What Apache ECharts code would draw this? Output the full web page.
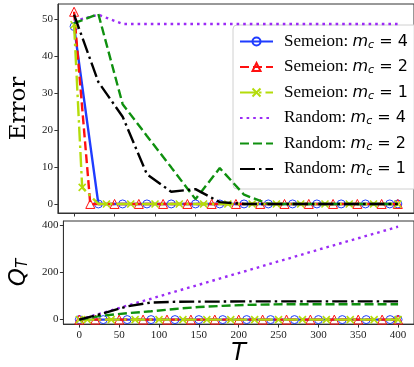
<!DOCTYPE html>
<html><head><meta charset="utf-8">
<script src="https://cdn.jsdelivr.net/npm/echarts@6/dist/echarts.min.js"></script>
<style>html,body{margin:0;padding:0;background:#fff}#c{width:414px;height:367px}</style>
</head><body><div id="c"></div>
<script>
// ---- data ----
const tickValues = [0,50,100,150,200,250,300,350,400];
const errTicks = [0,10,20,30,40,50];
const qTicks = [0,200,400];

const tSem4 = [0,30,60,90,120,150,180,210,240,270,300,330,360,390,400];
const tSem2 = [0,20,50,80,110,140,170,200,230,260,290,320,350,380,400];
const tSem1 = [0,10,20,30,40,70,100,130,160,190,220,250,280,310,340,370,400];
const tRand = [0,30,60,90,120,150,180,210,240,270,300,330,360,390,400];

const errSem4 = [48,0,0,0,0,0,0,0,0,0,0,0,0,0,0];
const errSem2 = [52,0,0,0,0,0,0,0,0,0,0,0,0,0,0];
const errSem1 = [48.5,4.5,2.2,0,0,0,0,0,0,0,0,0,0,0,0,0,0];
const errRand4 = [49.5,51.2,48.7,48.7,48.7,48.7,48.7,48.7,48.7,48.7,48.7,48.7,48.7,48.7,48.7];
const errRand2 = [48.9,51.4,27,18.4,9.9,1.3,9.7,2.5,0,0,0,0,0,0,0];
const errRand1 = [51.2,33,23.6,8,3.3,4.0,0.5,0,0,0,0,0,0,0,0];

const qSem4 = [0,0,0,0,0,0,0,0,0,0,0,0,0,0,0];
const qSem2 = [0,0,0,0,0,0,0,0,0,0,0,0,0,0,0];
const qSem1 = [0,0,0,0,0,0,0,0,0,0,0,0,0,0,0,0,0];
const qRand4 = [0,29,59,88,118,147,177,206,236,265,295,324,353,382,392];
const qRand2 = [0,17,27,35,45,53,58,62,64,65,65,65,65,65,65];
const qRand1 = [0,26,56,72,75,76,76,77,77,77,77,77,77,77,77];

const setNames = ['Semeion','Semeion','Semeion','Random','Random','Random'];
const mcValues = [4,2,1,4,2,1];
const seriesNames = setNames.map((s,i)=>s+': m_c = '+mcValues[i]);

// ---- styles ----
const colors = ['#1f3cff','#ff1010','#b4dc0a','#9b2bf5','#0f900f','#000000'];
const dashes = ['solid',[9,4],[15,4,2.5,4],[2.6,4],[9,4],[15,4,2.5,4]];
const symbols = ['circle','triangle','path://M0,0L10,10M10,0L0,10','none','none','none'];
const symSizes = [8,9,7,0,0,0];
const tArr = [tSem4,tSem2,tSem1,tRand,tRand,tRand];
const errArr = [errSem4,errSem2,errSem1,errRand4,errRand2,errRand1];
const qArr = [qSem4,qSem2,qSem1,qRand4,qRand2,qRand1];

function mk(k, vals, axisIdx){
  const t = tArr[k];
  const data = t.map((x,i)=>{
    const d = {value:[x, vals[i]]};
    if (k===2 && (x===20 || x===30)) d.symbol = 'none';
    return d;
  });
  const hasSym = symbols[k]!=='none';
  return {
    name: seriesNames[k], type:'line', xAxisIndex:axisIdx, yAxisIndex:axisIdx,
    data, symbol: symbols[k], symbolSize: symSizes[k], showSymbol: hasSym,
    clip: true,
    lineStyle:{color:colors[k], width:2.4, type:dashes[k], cap:'butt'},
    itemStyle: hasSym
      ? {color:'rgba(0,0,0,0)', borderColor:colors[k], borderWidth:k===2?1.6:1}
      : {color:'rgba(0,0,0,0)', borderColor:'rgba(0,0,0,0)', borderWidth:0},
    emphasis:{disabled:true}, z: 2+k
  };
}
const series = [];
for (let k=0;k<6;k++) series.push(mk(k, errArr[k], 0));
for (let k=0;k<6;k++) series.push(mk(k, qArr[k], 1));

const tickFont = {fontFamily:'Liberation Serif', fontSize:11, color:'#222'};
const axisLineC = '#333';
function xAxis(gi, showLabels){
  return {
    type:'value', gridIndex:gi, min:-20, max:420,
    axisLine:{show:true, onZero:false, lineStyle:{color:axisLineC, width:1}},
    axisTick:{show:true, inside:false, length:3.5, customValues:tickValues, lineStyle:{color:axisLineC}},
    axisLabel:{show:showLabels, customValues:tickValues, margin:6, ...tickFont},
    splitLine:{show:false},
    name: showLabels ? 'T' : '', nameLocation:'middle', nameGap:16,
    nameTextStyle:{fontFamily:'DejaVu Sans', fontStyle:'italic', fontSize:24, color:'#000'}
  };
}
const chart = echarts.init(document.getElementById('c'), null, {renderer:'canvas'});
chart.setOption({
  animation:false,
  backgroundColor:'#fff',
  grid:[
    {left:51.5, top:4, width:364, height:209, show:true, borderColor:axisLineC, borderWidth:1, backgroundColor:'rgba(0,0,0,0)'},
    {left:51.5, top:221, width:364, height:105, show:true, borderColor:axisLineC, borderWidth:1, backgroundColor:'rgba(0,0,0,0)'}
  ],
  xAxis:[xAxis(0,false), xAxis(1,true)],
  yAxis:[
    {type:'value', gridIndex:0, min:-2.45, max:54.1,
     axisLine:{show:true, onZero:false, lineStyle:{color:axisLineC}},
     axisTick:{show:true, length:3.5, customValues:errTicks, lineStyle:{color:axisLineC}},
     axisLabel:{customValues:errTicks, margin:5, ...tickFont},
     splitLine:{show:false},
     name:'Error', nameLocation:'middle', nameGap:24,
     nameTextStyle:{fontFamily:'DejaVu Serif', fontSize:23, color:'#000'}},
    {type:'value', gridIndex:1, min:-19, max:416,
     axisLine:{show:true, onZero:false, lineStyle:{color:axisLineC}},
     axisTick:{show:true, length:3.5, customValues:qTicks, lineStyle:{color:axisLineC}},
     axisLabel:{customValues:qTicks, margin:5, ...tickFont},
     splitLine:{show:false},
     name:'{q|Q}{t|T}', nameLocation:'middle', nameGap:28,
     nameTextStyle:{rich:{
       q:{fontFamily:'DejaVu Sans', fontStyle:'italic', fontSize:23, color:'#000', lineHeight:26, verticalAlign:'bottom'},
       t:{fontFamily:'DejaVu Sans', fontStyle:'italic', fontSize:15, color:'#000', lineHeight:20, verticalAlign:'bottom'}
     }}}
  ],
  legend:{
    data: seriesNames,
    orient:'vertical', left:233, top:25,
    padding:[8,10,11,6],
    itemWidth:33, itemHeight:10, itemGap:8,
    backgroundColor:'rgba(255,255,255,0.85)', borderColor:'#d0d0d0', borderWidth:1, borderRadius:4,
    selectedMode:false,
    formatter: function(name){
      const i = seriesNames.indexOf(name);
      return '{sp|}{s|'+setNames[i]+': }{m|m}{c|c}{e| = '+mcValues[i]+'}';
    },
    textStyle:{color:'#000', rich:{
      sp:{width:6, lineHeight:18},
      s:{fontFamily:'Liberation Serif', fontSize:17, color:'#000', lineHeight:18},
      m:{fontFamily:'DejaVu Sans', fontStyle:'italic', fontSize:16, color:'#000', lineHeight:18},
      c:{fontFamily:'DejaVu Sans', fontStyle:'italic', fontSize:11, color:'#000', lineHeight:12, verticalAlign:'bottom'},
      e:{fontFamily:'DejaVu Sans', fontSize:16, color:'#000', lineHeight:18}
    }}
  },
  series
});
</script>
</body></html>
